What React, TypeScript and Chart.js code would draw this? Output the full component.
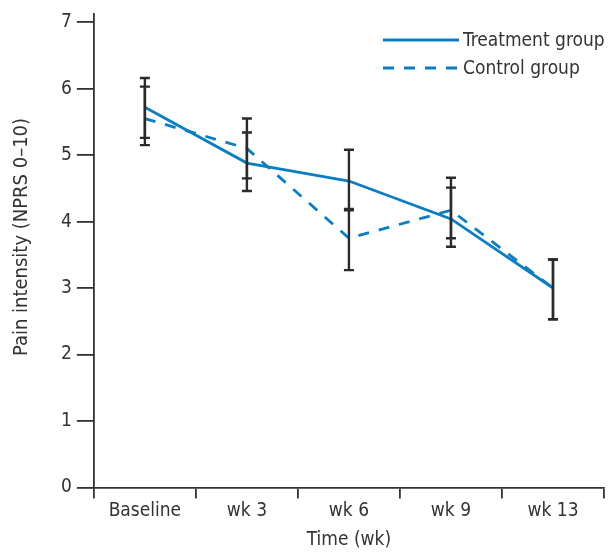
import React, { useEffect, useRef } from "react";
import { Chart, registerables } from "chart.js";

Chart.register(...registerables);

const categories = ["Baseline", "wk 3", "wk 6", "wk 9", "wk 13"];
const treatmentMean = [5.72, 4.88, 4.61, 4.04, 3.0];
const treatmentUpper = [6.16, 5.34, 5.08, 4.51, 3.43];
const treatmentLower = [5.26, 4.46, 4.17, 3.62, 2.53];
const controlMean = [5.55, 5.1, 3.75, 4.17, 3.0];
const controlUpper = [6.03, 5.55, 4.19, 4.66, 3.43];
const controlLower = [5.15, 4.65, 3.27, 3.75, 2.53];
const yTicks = [0, 1, 2, 3, 4, 5, 6, 7];
const yTitle = "Pain intensity (NPRS 0\u201310)";

const FONT = "'Liberation Sans Narrow', 'DejaVu Sans Condensed', sans-serif";
const FS = 19;
const BLUE = "#0a7ec4";
const INK = "#333333";

const errorBars = {
  id: "errorBars",
  afterDatasetsDraw(chart: any) {
    const ctx = chart.ctx;
    const xs = chart.scales.x;
    const ys = chart.scales.y;
    const sets = [
      [treatmentUpper, treatmentLower],
      [controlUpper, controlLower],
    ];
    ctx.save();
    ctx.strokeStyle = "#2a2a2a";
    ctx.lineWidth = 2.4;
    ctx.setLineDash([]);
    sets.forEach(([up, lo]) => {
      up.forEach((u: number, j: number) => {
        const x = xs.getPixelForValue(j);
        const yu = ys.getPixelForValue(u);
        const yl = ys.getPixelForValue(lo[j]);
        ctx.beginPath();
        ctx.moveTo(x, yu);
        ctx.lineTo(x, yl);
        ctx.moveTo(x - 5, yu);
        ctx.lineTo(x + 5, yu);
        ctx.moveTo(x - 5, yl);
        ctx.lineTo(x + 5, yl);
        ctx.stroke();
      });
    });
    ctx.restore();
  },
};

const customLegend = {
  id: "customLegend",
  afterDraw(chart: any) {
    const ctx = chart.ctx;
    ctx.save();
    const x0 = 383;
    const x1 = 459;
    const rows = [40, 68];
    chart.data.datasets.forEach((ds: any, i: number) => {
      const y = rows[i];
      ctx.strokeStyle = ds.borderColor;
      ctx.lineWidth = ds.borderWidth;
      ctx.setLineDash(ds.borderDash || []);
      ctx.beginPath();
      ctx.moveTo(x0, y);
      ctx.lineTo(x1, y);
      ctx.stroke();
      ctx.setLineDash([]);
      ctx.fillStyle = INK;
      ctx.font = `${FS}px ${FONT}`;
      ctx.textBaseline = "middle";
      ctx.textAlign = "left";
      ctx.fillText(ds.label, x1 + 4, y + 1);
    });
    ctx.restore();
  },
};

const yAxisTitle = {
  id: "yAxisTitle",
  afterDraw(chart: any) {
    const ctx = chart.ctx;
    ctx.save();
    ctx.translate(22, 237);
    ctx.rotate(-Math.PI / 2);
    ctx.fillStyle = INK;
    ctx.font = `${FS + 1}px ${FONT}`;
    ctx.textAlign = "center";
    ctx.textBaseline = "middle";
    ctx.fillText(yTitle, 0, 0);
    ctx.restore();
  },
};

export default function App() {
  const ref = useRef<HTMLCanvasElement>(null);
  useEffect(() => {
    if (!ref.current) return;
    const chart = new Chart(ref.current, {
      type: "line",
      data: {
        labels: categories,
        datasets: [
          {
            label: "Treatment group",
            data: treatmentMean,
            borderColor: BLUE,
            borderWidth: 2.8,
            pointRadius: 0,
            tension: 0,
            fill: false,
          },
          {
            label: "Control group",
            data: controlMean,
            borderColor: BLUE,
            borderWidth: 2.8,
            borderDash: [11, 10],
            pointRadius: 0,
            tension: 0,
            fill: false,
          },
        ],
      },
      options: {
        animation: false,
        responsive: false,
        layout: { padding: { top: 10, right: 4, bottom: 1, left: 56 } },
        plugins: {
          legend: { display: false },
          tooltip: { enabled: false },
        },
        scales: {
          x: {
            type: "category",
            offset: true,
            grid: {
              offset: true,
              drawOnChartArea: false,
              tickLength: 11,
              color: INK,
              lineWidth: 1.8,
            },
            border: { display: true, color: INK, width: 1.8 },
            ticks: {
              color: INK,
              padding: 1,
              font: { family: FONT, size: FS },
              maxRotation: 0,
            },
            title: {
              display: true,
              text: "Time (wk)",
              color: INK,
              font: { family: FONT, size: FS },
              padding: { top: 5, bottom: 0 },
            },
          },
          y: {
            type: "linear",
            min: 0,
            max: 7.13,
            afterBuildTicks(scale: any) {
              scale.ticks = yTicks.map((v) => ({ value: v }));
            },
            grid: {
              drawOnChartArea: false,
              tickLength: 17,
              color: INK,
              lineWidth: 1.8,
            },
            border: { display: true, color: INK, width: 1.8 },
            ticks: {
              color: INK,
              padding: 5,
              font: { family: FONT, size: FS, lineHeight: 0.9 },
            },
          },
        },
      },
      plugins: [errorBars, customLegend, yAxisTitle],
    });
    return () => chart.destroy();
  }, []);
  return (
    <div style={{ position: "fixed", left: 0, top: 0, width: 608, height: 552, background: "#fff" }}>
      <canvas ref={ref} width={608} height={552} style={{ display: "block" }} />
    </div>
  );
}
